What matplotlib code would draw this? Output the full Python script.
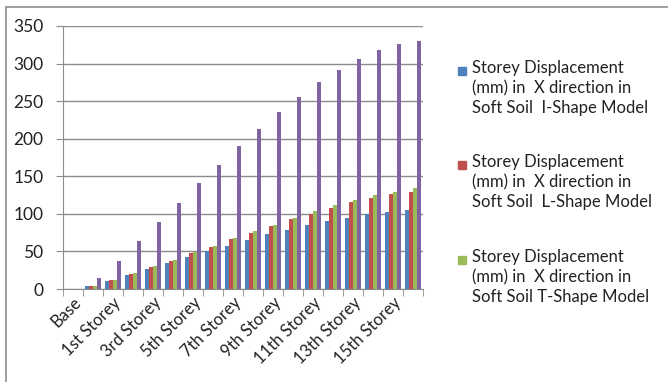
import matplotlib.pyplot as plt
import numpy as np
from matplotlib.patches import Rectangle

plt.rcParams['font.family'] = ['Lato', 'DejaVu Sans']

# storey levels from base up to the 16th storey
storeys = ["Base", "Plinth", "1st Storey", "2nd Storey", "3rd Storey", "4th Storey",
           "5th Storey", "6th Storey", "7th Storey", "8th Storey", "9th Storey",
           "10th Storey", "11th Storey", "12th Storey", "13th Storey", "14th Storey",
           "15th Storey", "16th Storey"]

# storey displacement (mm) in X direction, soft soil
disp_i_shape = [0, 4, 10.6, 18.6, 26.6, 34.6, 42, 50, 57.6, 64.8, 72.8, 78.5,
                84.8, 90.5, 95, 99.8, 102.5, 104.7]
disp_l_shape = [0, 4, 12, 20, 29, 37, 48, 56, 66, 74.5, 83.8, 92.8,
                100.3, 108, 115.4, 120.7, 126.4, 129]
disp_t_shape = [0, 4, 12, 21, 30, 38.6, 49, 57.6, 68, 77, 85.6, 95,
                103.8, 111.8, 118.5, 125, 129, 134]
disp_fourth = [0, 14, 37.7, 63.5, 89, 115, 140.6, 165.3, 190, 213.5, 235.6, 256,
               275, 292, 306, 317.6, 325.6, 329.6]

legend_labels = [
    "Storey Displacement\n(mm) in  X direction in\nSoft Soil  I-Shape Model",
    "Storey Displacement\n(mm) in  X direction in\nSoft Soil  L-Shape Model",
    "Storey Displacement\n(mm) in  X direction in\nSoft Soil T-Shape Model",
]

colors = ["#4F81BD", "#C0504D", "#9BBB59", "#8064A2"]
W, H = 668, 382

fig = plt.figure(figsize=(W / 100, H / 100), dpi=100)
ax = fig.add_axes([63 / W, (H - 289) / H, 360 / W, 263 / H])

x = np.arange(len(storeys))
series = [disp_i_shape, disp_l_shape, disp_t_shape, disp_fourth]
bw = 0.2
for k, (vals, c) in enumerate(zip(series, colors)):
    ax.bar(x + (k - 1.5) * bw, vals, width=bw, color=c, zorder=3)

ax.set_xlim(-0.5, len(storeys) - 0.5)
ax.set_ylim(0, 350)
ax.set_yticks(np.arange(0, 351, 50))
ax.yaxis.grid(True, color="#8c8c8c", linewidth=1, zorder=0)
for s in ["top", "right"]:
    ax.spines[s].set_visible(False)
for s in ["left", "bottom"]:
    ax.spines[s].set_color("#8c8c8c")
ax.tick_params(axis="y", length=5, color="#8c8c8c", pad=9, labelsize=12.5,
               labelcolor="#222222")

# category labels on every other storey, tick marks between categories
ax.set_xticks(x[::2])
ax.set_xticklabels(storeys[::2], rotation=45, ha="right", va="top",
                   rotation_mode="anchor", fontsize=12, color="#222222")
ax.set_xticks(np.arange(-0.5, len(storeys)), minor=True)
ax.tick_params(axis="x", which="major", length=0, pad=4)
ax.tick_params(axis="x", which="minor", length=5, color="#8c8c8c")

# legend for the three shape models
for k, lab in enumerate(legend_labels):
    top = 64 + k * 94.5
    fig.add_artist(Rectangle((458 / W, 1 - (top + 11) / H), 8 / W, 8 / H,
                             transform=fig.transFigure, color=colors[k]))
    fig.text(472 / W, 1 - (top - 4) / H, lab, ha="left", va="top",
             fontsize=12, linespacing=1.3, color="#222222")

# chart border
fig.add_artist(Rectangle((6 / W, -0.1), 1.2, 1 - 7 / H + 0.1,
                         transform=fig.transFigure, fill=False,
                         edgecolor="#8c8c8c", linewidth=1.2))

fig.savefig("out.png", dpi=100)
